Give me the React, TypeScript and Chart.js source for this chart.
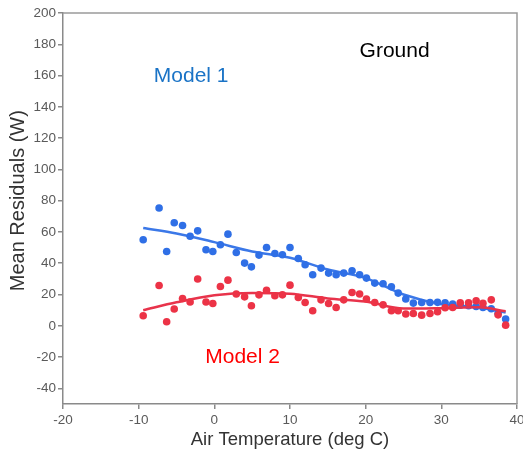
import React, { useEffect, useRef } from "react";
import { Chart, registerables } from "chart.js";

Chart.register(...registerables);

// Temperature bins (deg C) shared by both models
const temps = [
  -9.4, -7.3, -6.3, -5.3, -4.2, -3.2, -2.2, -1.1, -0.2, 0.8, 1.8, 2.9, 4.0, 4.9, 5.9, 6.9,
  8.0, 9.0, 10.0, 11.1, 12.0, 13.0, 14.1, 15.1, 16.1, 17.1, 18.2, 19.2, 20.1, 21.2, 22.3,
  23.4, 24.3, 25.3, 26.3, 27.4, 28.5, 29.5, 30.5, 31.5, 32.5, 33.6, 34.6, 35.5, 36.6, 37.5, 38.5,
];

const model1 = [
  55.0, 75.3, 47.5, 65.9, 64.1, 57.3, 60.7, 48.6, 47.5, 51.8, 58.6, 46.9, 40.1, 37.7, 45.2, 50.1,
  46.2, 45.4, 50.1, 43.0, 39.0, 32.6, 36.9, 33.7, 32.6, 33.7, 35.2, 32.6, 30.5, 27.3, 26.9,
  24.9, 20.9, 17.1, 14.5, 14.9, 14.9, 15.0, 14.7, 13.9, 13.2, 12.8, 12.3, 11.7, 10.9, 8.0, 4.3,
];

const model2 = [
  6.4, 25.8, 2.6, 10.7, 17.5, 15.2, 29.9, 15.2, 14.3, 25.1, 29.2, 20.3, 18.5, 12.8, 19.8, 22.7,
  19.2, 19.8, 26.0, 18.1, 14.9, 9.6, 16.6, 14.3, 11.7, 16.6, 21.3, 20.3, 17.1, 14.9, 13.4,
  9.6, 9.6, 7.5, 7.9, 6.8, 7.9, 9.0, 11.5, 11.7, 14.7, 14.7, 16.0, 14.4, 16.6, 7.0, 0.4,
];

// Smoothed fit curves
const fitTemps = [-9.4, -5, 0, 5, 10, 15, 20, 25, 30, 35, 38.5];
const fit1 = [62.5, 59, 53.5, 47.5, 43.5, 36, 30.5, 20, 13.8, 11.7, 8.5];
const fit2 = [10, 15, 19.5, 21, 20.5, 17.5, 15.5, 11, 11.3, 11.8, 9.3];

const xTickValues = [-20, -10, 0, 10, 20, 30, 40];
const yTickValues = [-40, -20, 0, 20, 40, 60, 80, 100, 120, 140, 160, 180, 200];

const xTitle = "Air Temperature (deg C)";
const yTitle = "Mean Residuals (W)";
const label1 = "Model 1";
const label2 = "Model 2";
const labelGround = "Ground";

const BLUE_PT = "#2f6fe6";
const BLUE_LN = "#3b78e8";
const RED_PT = "#ec3346";
const RED_LN = "#e8334b";
const FONT = "'Liberation Sans', Arial, sans-serif";

const framePlugin = {
  id: "frameAndLabels",
  afterDraw(chart: any) {
    const { ctx, chartArea, scales } = chart;
    ctx.save();
    ctx.strokeStyle = "#9a9a9a";
    ctx.lineWidth = 1.5;
    ctx.beginPath();
    ctx.moveTo(chartArea.left, chartArea.top);
    ctx.lineTo(chartArea.right, chartArea.top);
    ctx.lineTo(chartArea.right, chartArea.bottom);
    ctx.stroke();

    const xs = scales.x;
    const ys = scales.y;
    ctx.textAlign = "left";
    ctx.textBaseline = "alphabetic";
    ctx.font = `21px ${FONT}`;
    ctx.fillStyle = "#1a73c6";
    ctx.fillText(label1, xs.getPixelForValue(-8.0), ys.getPixelForValue(156));
    ctx.fillStyle = "#000000";
    ctx.fillText(labelGround, xs.getPixelForValue(19.2), ys.getPixelForValue(172));
    ctx.fillStyle = "#ff0000";
    ctx.fillText(label2, xs.getPixelForValue(-1.2), ys.getPixelForValue(-23.5));

    // y-axis title
    ctx.save();
    ctx.translate(18, ys.getPixelForValue(80));
    ctx.rotate(-Math.PI / 2);
    ctx.textAlign = "center";
    ctx.textBaseline = "middle";
    ctx.font = `20px ${FONT}`;
    ctx.fillStyle = "#333333";
    ctx.fillText(yTitle, 0, 0);
    ctx.restore();
    ctx.restore();
  },
};

export default function App() {
  const ref = useRef<HTMLCanvasElement | null>(null);

  useEffect(() => {
    document.body.style.margin = "0";
    const canvas = ref.current;
    if (!canvas) return;
    const pts = (ys: number[]) => temps.map((t, i) => ({ x: t, y: ys[i] }));
    const fit = (ys: number[]) => fitTemps.map((t, i) => ({ x: t, y: ys[i] }));

    const chart = new Chart(canvas, {
      type: "scatter",
      data: {
        datasets: [
          {
            label: "Model 1 fit",
            data: fit(fit1),
            showLine: true,
            borderColor: BLUE_LN,
            borderWidth: 2.5,
            pointRadius: 0,
            tension: 0.4,
            cubicInterpolationMode: "monotone",
            order: 4,
          } as any,
          {
            label: "Model 1",
            data: pts(model1),
            backgroundColor: BLUE_PT,
            borderWidth: 0,
            pointRadius: 3.8,
            order: 3,
          },
          {
            label: "Model 2 fit",
            data: fit(fit2),
            showLine: true,
            borderColor: RED_LN,
            borderWidth: 2.5,
            pointRadius: 0,
            tension: 0.4,
            cubicInterpolationMode: "monotone",
            order: 2,
          } as any,
          {
            label: "Model 2",
            data: pts(model2),
            backgroundColor: RED_PT,
            borderWidth: 0,
            pointRadius: 3.8,
            order: 1,
          },
        ],
      },
      options: {
        responsive: false,
        animation: false,
        layout: { padding: { top: 13, right: 6, left: 0, bottom: 0 } },
        plugins: {
          legend: { display: false },
          tooltip: { enabled: false },
        },
        scales: {
          x: {
            type: "linear",
            min: -20,
            max: 40,
            afterBuildTicks: (s: any) => {
              s.ticks = xTickValues.map((v) => ({ value: v }));
            },
            afterFit: (s: any) => {
              s.height = 51;
              s.paddingLeft = 0;
              s.paddingRight = 0;
            },
            grid: { drawOnChartArea: false, drawTicks: true, tickLength: 5, color: "#8a8a8a", lineWidth: 1.5 },
            border: { display: true, color: "#8a8a8a", width: 1.5 },
            ticks: {
              padding: 3,
              maxRotation: 0,
              color: "#5a5a5a",
              font: { family: FONT, size: 13.5 },
            },
            title: {
              display: true,
              text: xTitle,
              color: "#333333",
              font: { family: FONT, size: 18.5 },
              padding: { top: 0, bottom: 4 },
            },
          },
          y: {
            type: "linear",
            min: -50,
            max: 200,
            afterBuildTicks: (s: any) => {
              s.ticks = yTickValues.map((v) => ({ value: v }));
            },
            afterFit: (s: any) => {
              s.width = 63;
              s.paddingTop = 0;
              s.paddingBottom = 0;
            },
            grid: { drawOnChartArea: false, drawTicks: true, tickLength: 5, color: "#8a8a8a", lineWidth: 1.5 },
            border: { display: true, color: "#8a8a8a", width: 1.5 },
            ticks: {
              padding: 2,
              color: "#5a5a5a",
              font: { family: FONT, size: 13.5 },
            },
            title: { display: false },
          },
        },
      },
      plugins: [framePlugin],
    });
    return () => chart.destroy();
  }, []);

  return (
    <div style={{ width: 523, height: 455 }}>
      <canvas ref={ref} width={523} height={455} />
    </div>
  );
}
